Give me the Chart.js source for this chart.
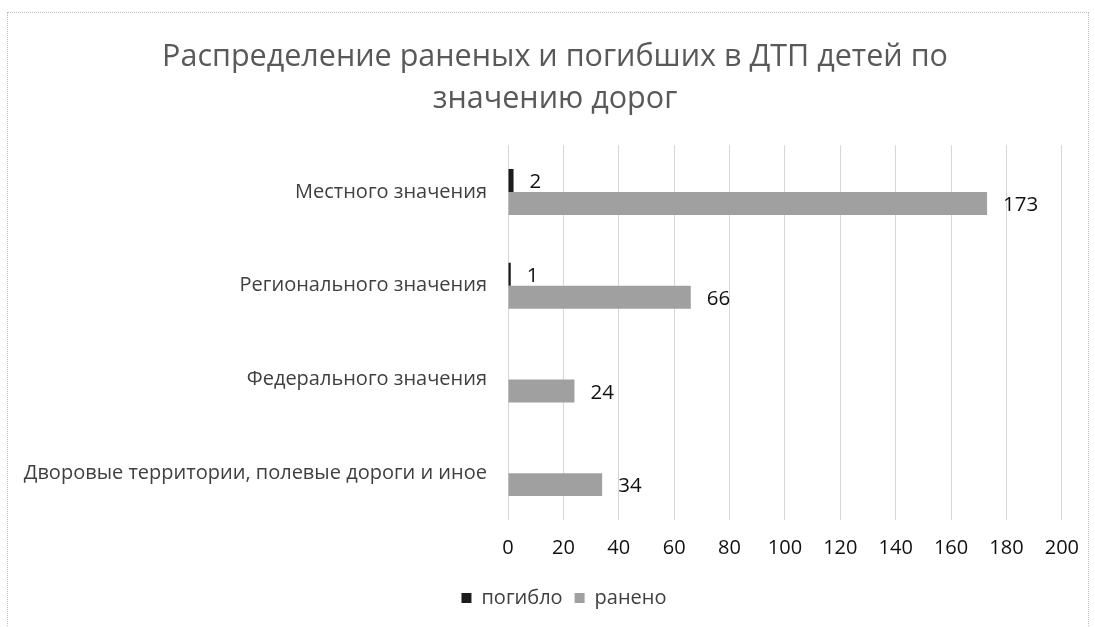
<!DOCTYPE html>
<html>
<head>
<meta charset="utf-8">
<script src="https://cdn.jsdelivr.net/npm/chart.js@4/dist/chart.umd.min.js"></script>
<style>
html,body{margin:0;padding:0;background:#fff;}
#wrap{position:relative;width:1095px;height:627px;}
#frame{position:absolute;left:7px;top:12px;width:1082px;height:630px;border:1px dotted #bdbdbd;box-sizing:border-box;}
canvas{position:absolute;left:0;top:0;}
</style>
</head>
<body>
<div id="wrap">
<div id="frame"></div>
<canvas id="c" width="1095" height="627"></canvas>
</div>
<script>
const titleLines = ["Распределение раненых и погибших в ДТП детей по", "значению дорог"];
const categories = ["Местного значения", "Регионального значения", "Федерального значения", "Дворовые территории, полевые дороги и иное"];
const killed = [2, 1, 0, 0];
const injured = [173, 66, 24, 34];
const seriesNames = ["погибло", "ранено"];
const xTicks = [0, 20, 40, 60, 80, 100, 120, 140, 160, 180, 200];

const FONT = "'Open Sans', 'DejaVu Sans', sans-serif";

const valueLabels = {
  id: 'valueLabels',
  afterDatasetsDraw(chart) {
    const ctx = chart.ctx;
    ctx.save();
    ctx.font = "20.5px " + FONT;
    ctx.fillStyle = '#111';
    ctx.textAlign = 'left';
    ctx.textBaseline = 'middle';
    chart.data.datasets.forEach((ds, i) => {
      const meta = chart.getDatasetMeta(i);
      meta.data.forEach((bar, j) => {
        const v = ds.data[j];
        if (!v) return;
        ctx.fillText(String(v), bar.x + 16, bar.y + 2);
      });
    });
    ctx.restore();
  }
};

// shift the title and legend blocks to the right to match the reference centring
const blockShift = {
  id: 'blockShift',
  afterLayout(chart) {
    const t = chart.titleBlock;
    if (t) { t.left += 19; t.right += 19; }
    const lg = chart.legend;
    if (lg) { lg.left += 28; lg.right += 28; }
  }
};

new Chart(document.getElementById('c'), {
  type: 'bar',
  data: {
    labels: categories,
    datasets: [
      { label: seriesNames[0], data: killed, backgroundColor: '#1c1c1c', barPercentage: 1, categoryPercentage: 0.49 },
      { label: seriesNames[1], data: injured, backgroundColor: '#a0a0a0', barPercentage: 1, categoryPercentage: 0.49 }
    ]
  },
  options: {
    indexAxis: 'y',
    responsive: false,
    animation: false,
    layout: { padding: { left: 10, right: 33, top: 36, bottom: 9 } },
    plugins: {
      title: {
        display: true,
        text: titleLines,
        color: '#595959',
        font: { family: FONT, size: 30.5, weight: 'normal', lineHeight: 1.38 },
        padding: { top: 0, bottom: 25 }
      },
      legend: {
        position: 'bottom',
        labels: {
          color: '#404040',
          font: { family: FONT, size: 20 },
          boxWidth: 10, boxHeight: 10,
          padding: 12
        }
      },
      tooltip: { enabled: false }
    },
    scales: {
      x: {
        min: 0, max: 200,
        afterBuildTicks: s => { s.ticks = xTicks.map(v => ({ value: v })); },
        ticks: { color: '#111', font: { family: FONT, size: 20 }, padding: 16 },
        grid: { color: '#d6d6d6', drawTicks: false },
        border: { display: false }
      },
      y: {
        afterFit: s => { s.width = 498; },
        ticks: { color: '#404040', font: { family: FONT, size: 20 }, padding: 21 },
        grid: { display: false, drawTicks: false },
        border: { display: false }
      }
    }
  },
  plugins: [valueLabels, blockShift]
});
</script>
</body>
</html>
